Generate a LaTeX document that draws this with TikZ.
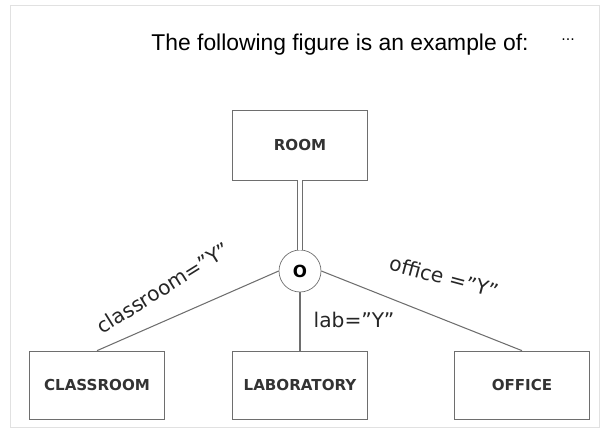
\documentclass[tikz,border=0pt]{standalone}
\usepackage{fontspec}
\setmainfont{DejaVu Sans}
\newfontfamily\titlefont{Liberation Sans}
\usetikzlibrary{positioning}
\definecolor{linegray}{RGB}{110,110,110}
\definecolor{framegray}{RGB}{225,225,225}
\newcommand{\qY}{\symbol{34}Y\symbol{34}}
\begin{document}
\begin{tikzpicture}[x=0.02cm,y=-0.02cm]
    \tikzset{
        entity/.style={draw=linegray,rectangle,minimum width=2.7cm,minimum height=1.36cm,inner sep=0pt,font=\fontsize{8.6}{10}\selectfont\bfseries,text=black!80},
        link/.style={draw=linegray,line width=0.6pt},
        cond/.style={font=\fontsize{11.5}{13}\selectfont,inner sep=1pt,text=black!85}
    }
    \useasboundingbox (0,0) rectangle (607,443);
    % frame
    \draw[framegray] (10,5) rectangle (599,427);
    % title
    \node[font=\titlefont\fontsize{13}{15}\selectfont] (title) at (340,45) {The following figure is an example of:};
    \node[font=\fontsize{8}{9}\selectfont] (dots) at (568,40) {...};

    % Superclass
    \node[entity,minimum height=1.4cm] (room) at (300,145) {ROOM};
    \node[draw=linegray,circle,minimum size=0.84cm,inner sep=0pt,font=\fontsize{9.5}{10}\selectfont\bfseries] (disj) at (300,271) {O};

    % Subclasses
    \node[entity] (classroom) at (97,385) {CLASSROOM};
    \node[entity] (lab) at (300,385) {LABORATORY};
    \node[entity] (office) at (522,385) {OFFICE};

    % Connectors
    \draw[link,double,double distance=2pt] (room.south) -- (disj.north);
    \draw[link] (disj.west) -- (classroom.north);
    \draw[link] (disj.south) -- (lab.north);
    \draw[link] (disj.east) -- (office.north);

    % Conditions
    \node[cond,rotate=32] (c1) at (163,288) {classroom=\qY};
    \node[cond] (c2) at (354,320) {lab=\qY};
    \node[cond,rotate=-15] (c3) at (444,277) {office =\qY};
\end{tikzpicture}
\end{document}
